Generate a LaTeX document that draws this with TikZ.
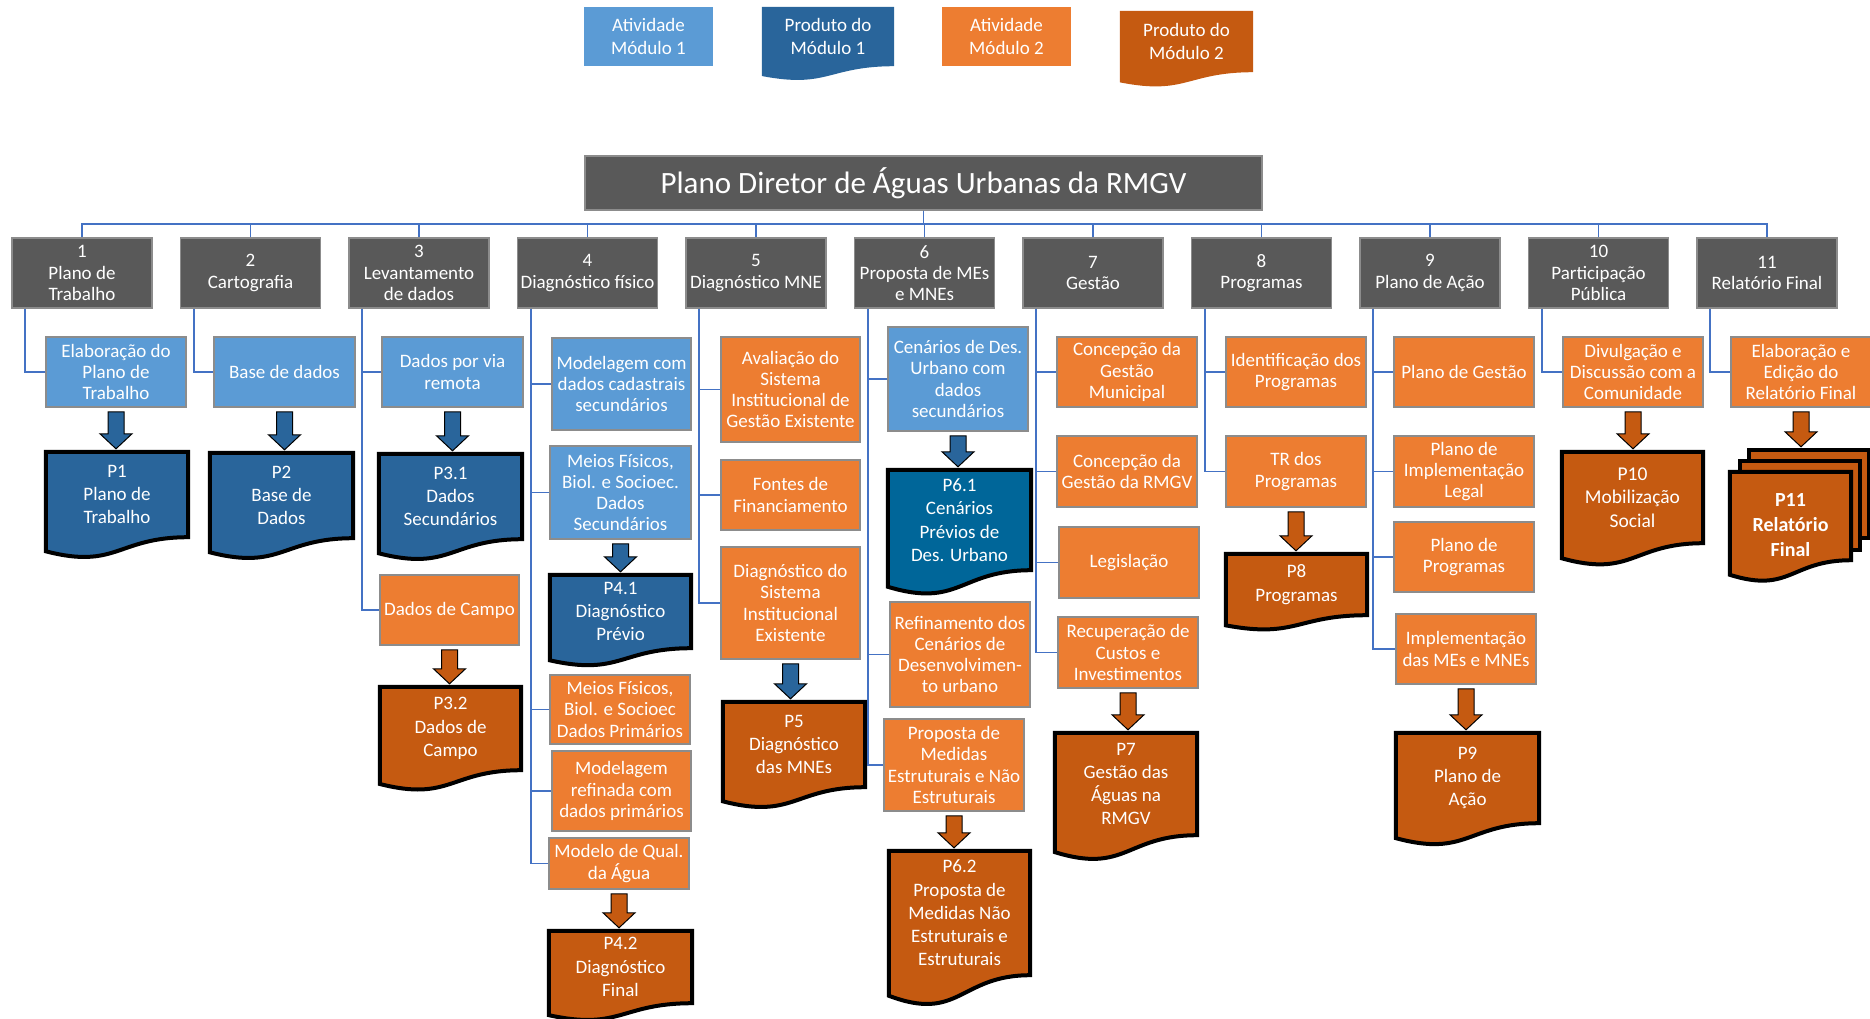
\documentclass[tikz,border=0pt]{standalone}
\usepackage{fontspec}
\setmainfont{Carlito}
\usetikzlibrary{calc,backgrounds}

\definecolor{actblue}{RGB}{91,155,213}
\definecolor{prodblue}{RGB}{41,101,155}
\definecolor{prodteal}{RGB}{0,102,153}
\definecolor{actorange}{RGB}{237,125,49}
\definecolor{prodorange}{RGB}{197,90,17}
\definecolor{catgray}{RGB}{89,89,89}
\definecolor{boxgray}{RGB}{140,140,140}
\definecolor{treeblue}{RGB}{68,114,196}

\tikzset{
  sz/.style 2 args={minimum width=#1pt, minimum height=#2pt},
  basebox/.style={inner sep=0pt, align=center, text=white, font=\fontsize{19}{21.3}\selectfont},
  catbox/.style={basebox, fill=catgray, draw=boxgray, line width=1.5pt, sz={140}{70}},
  act1/.style={basebox, fill=actblue, draw=boxgray, line width=1.5pt},
  act2/.style={basebox, fill=actorange, draw=boxgray, line width=1.5pt},
  legbox/.style={basebox, font=\fontsize{19}{22.6}\selectfont},
  docnode/.style={basebox, font=\fontsize{19}{23.3}\selectfont},
  docline/.style={draw=black, line width=4pt},
  tree/.style={draw=treeblue, line width=1.8pt},
  blockarr/.style={draw=black, line width=1pt},
}

% document shape drawn behind a text node
\newcommand\docwave[2]{%
  \begin{pgfonlayer}{background}
  \path[#2] (#1.north west) -- (#1.north east) -- (#1.south east)
    .. controls (#1.south) and ($(#1.south)!-0.381!(#1.north)$)
    .. ($(#1.south west)!-0.165!(#1.north west)$) -- cycle;
  \end{pgfonlayer}}

% thick block arrow from activity to product
\newcommand\blockarrow[3]{%
  \draw[blockarr, fill=#3] let \p1=($(#1.south)+(0,4)$), \p2=($(#2.north)+(0,-3)$) in
    (\x1-8pt,\y1) -- (\x1+8pt,\y1) -- (\x1+8pt,\y2+15pt) -- (\x1+16pt,\y2+15pt)
    -- (\x1,\y2) -- (\x1-16pt,\y2+15pt) -- (\x1-8pt,\y2+15pt) -- cycle;}

\begin{document}
\begin{tikzpicture}[x=1pt, y=-1pt]
\useasboundingbox (0,0) rectangle (1870,1018);

% legenda
\node[legbox, fill=actblue, sz={129}{59}] (leg1) at (648.5,36.5) {Atividade\\Módulo 1};
\node[legbox, sz={132}{59}] (leg2) at (828,36.5) {Produto do\\Módulo 1};
\node[legbox, fill=actorange, sz={129}{59}] (leg3) at (1006.5,36.5) {Atividade\\Módulo 2};
\node[legbox, sz={133}{61}] (leg4) at (1186.5,41.5) {Produto do\\Módulo 2};
\docwave{leg2}{fill=prodblue}
\docwave{leg4}{fill=prodorange}

% titulo
\node[basebox, fill=catgray, draw=boxgray, line width=1.5pt, sz={677}{54},
  font=\fontsize{31}{36}\selectfont] (title) at (923.5,183) {Plano Diretor de Águas Urbanas da RMGV};

% etapas
\node[catbox] (c1) at (82,273) {1\\Plano de\\Trabalho};
\node[catbox] (c2) at (250.5,273) {2\\Cartografia};
\node[catbox] (c3) at (419,273) {3\\Levantamento\\de dados};
\node[catbox] (c4) at (587.5,273) {4\\Diagnóstico físico};
\node[catbox] (c5) at (756,273) {5\\Diagnóstico MNE};
\node[catbox] (c6) at (924.5,273) {6\\Proposta de MEs\\e MNEs};
\node[catbox] (c7) at (1093,273) {7\\Gestão};
\node[catbox] (c8) at (1261.5,273) {8\\Programas};
\node[catbox] (c9) at (1430,273) {9\\Plano de Ação};
\node[catbox] (c10) at (1598.5,273) {10\\Participação\\Pública};
\node[catbox] (c11) at (1767,273) {11\\Relatório Final};

% atividades
\node[act1, sz={140}{70}] (a1) at (116,372) {Elaboração do\\Plano de\\Trabalho};
\node[act1, sz={141}{70}] (a2) at (284.5,372) {Base de dados};
\node[act1, sz={141}{70}] (a3a) at (452.5,372) {Dados por via\\remota};
\node[act2, sz={139}{70}] (a3b) at (449.5,610) {Dados de Campo};
\node[act1, sz={139}{92}] (a4a) at (621.5,384) {Modelagem com\\dados cadastrais\\secundários};
\node[act1, sz={141}{93}] (a4b) at (620.5,492.5) {Meios Físicos,\\Biol. e Socioec.\\Dados\\Secundários};
\node[act2, sz={140}{69}] (a4c) at (620,709.5) {Meios Físicos,\\Biol. e Socioec\\Dados Primários};
\node[act2, sz={139}{80}] (a4d) at (621.5,791) {Modelagem\\refinada com\\dados primários};
\node[act2, sz={140}{51}] (a4e) at (619,863.5) {Modelo de Qual.\\da Água};
\node[act2, sz={139}{105}] (a5a) at (790.5,389.5) {Avaliação do\\Sistema\\Institucional de\\Gestão Existente};
\node[act2, sz={139}{70}] (a5b) at (790.5,495) {Fontes de\\Financiamento};
\node[act2, sz={139}{112}] (a5c) at (790.5,603) {Diagnóstico do\\Sistema\\Institucional\\Existente};
\node[act1, sz={140}{104}] (a6a) at (958,379) {Cenários de Des.\\Urbano com\\dados\\secundários};
\node[act2, sz={140}{105}] (a6b) at (960,654.5) {Refinamento dos\\Cenários de\\Desenvolvimen-\\to urbano};
\node[act2, sz={140}{92}] (a6c) at (954,765) {Proposta de\\Medidas\\Estruturais e Não\\Estruturais};
\node[act2, sz={140}{70}] (a7a) at (1127,372) {Concepção da\\Gestão\\Municipal};
\node[act2, sz={140}{71}] (a7b) at (1127,471.5) {Concepção da\\Gestão da RMGV};
\node[act2, sz={140}{71}] (a7c) at (1129,562.5) {Legislação};
\node[act2, sz={140}{71}] (a7d) at (1128,652.5) {Recuperação de\\Custos e\\Investimentos};
\node[act2, sz={140}{70}] (a8a) at (1296,372) {Identificação dos\\Programas};
\node[act2, sz={140}{71}] (a8b) at (1296,471.5) {TR dos\\Programas};
\node[act2, sz={140}{70}] (a9a) at (1464,372) {Plano de Gestão};
\node[act2, sz={140}{71}] (a9b) at (1464,471.5) {Plano de\\Implementação\\Legal};
\node[act2, sz={140}{70}] (a9c) at (1464,557) {Plano de\\Programas};
\node[act2, sz={140}{70}] (a9d) at (1466,649) {Implementação\\das MEs e MNEs};
\node[act2, sz={140}{70}] (a10) at (1633,372) {Divulgação e\\Discussão com a\\Comunidade};
\node[act2, sz={140}{70}] (a11) at (1801,372) {Elaboração e\\Edição do\\Relatório Final};

% produtos
\node[docnode, sz={142}{85}] (p1) at (117,494.5) {P1\\Plano de\\Trabalho};
\node[docnode, sz={143}{85}] (p2) at (281.5,495.5) {P2\\Base de\\Dados};
\node[docnode, sz={143}{85}] (p31) at (450.5,496.5) {P3.1\\Dados\\Secundários};
\node[docnode, sz={141}{83}] (p32) at (450.5,728.5) {P3.2\\Dados de\\Campo};
\node[docnode, sz={141}{73}] (p41) at (620.5,611.5) {P4.1\\Diagnóstico\\Prévio};
\node[docnode, sz={143}{72}] (p42) at (620.5,967) {P4.2\\Diagnóstico\\Final};
\node[docnode, sz={142}{85}] (p5) at (794,744.5) {P5\\Diagnóstico\\das MNEs};
\node[docnode, sz={143}{100}] (p61) at (959.5,520) {P6.1\\Cenários\\Prévios de\\Des. Urbano};
\node[docnode, sz={141}{124}] (p62) at (959.5,913) {P6.2\\Proposta de\\Medidas Não\\Estruturais e\\Estruturais};
\node[docnode, sz={142}{102}] (p7) at (1126,784) {P7\\Gestão das\\Águas na\\RMGV};
\node[docnode, sz={141}{61}] (p8) at (1296.5,584.5) {P8\\Programas};
\node[docnode, sz={143}{90}] (p9) at (1467.5,778) {P9\\Plano de\\Ação};
\node[docnode, sz={141}{91}, font=\fontsize{19.5}{23.5}\selectfont] (p10) at (1632.5,497.5) {P10\\Mobilização\\Social};
\node[docnode, sz={120}{88}] (p11c) at (1809,494) {};
\node[docnode, sz={120}{89}] (p11b) at (1800,505.5) {};
\node[docnode, sz={121}{88}, label={[docnode, yshift=-9pt, font=\fontsize{20}{25}\selectfont\bfseries]center:{P11\\Relatório\\Final}}] (p11) at (1790.5,516) {};

\docwave{p1}{docline, fill=prodblue}
\docwave{p2}{docline, fill=prodblue}
\docwave{p31}{docline, fill=prodblue}
\docwave{p32}{docline, fill=prodorange}
\docwave{p41}{docline, fill=prodblue}
\docwave{p42}{docline, fill=prodorange}
\docwave{p5}{docline, fill=prodorange}
\docwave{p61}{docline, fill=prodteal}
\docwave{p62}{docline, fill=prodorange}
\docwave{p7}{docline, fill=prodorange}
\docwave{p8}{docline, fill=prodorange}
\docwave{p9}{docline, fill=prodorange}
\docwave{p10}{docline, fill=prodorange}
\begin{pgfonlayer}{background}
  \draw[docline, fill=prodorange] (p11c.north west) rectangle (p11c.south east);
  \draw[docline, fill=prodorange] (p11b.north west) rectangle (p11b.south east);
\end{pgfonlayer}
\docwave{p11}{docline, fill=prodorange}

% ligacoes
\foreach \c in {c1,c2,c3,c4,c5,c6,c7,c8,c9,c10,c11}
  \draw[tree] (title.south) -- ++(0,13) -| (\c.north);
\foreach \c/\a in {c1/a1, c2/a2, c3/a3a, c3/a3b, c4/a4a, c4/a4b, c4/a4c, c4/a4d, c4/a4e,
    c5/a5a, c5/a5b, c5/a5c, c6/a6a, c6/a6b, c6/a6c, c7/a7a, c7/a7b, c7/a7c, c7/a7d,
    c8/a8a, c8/a8b, c9/a9a, c9/a9b, c9/a9c, c9/a9d, c10/a10, c11/a11}
  \draw[tree] ($(\c.south west)+(14,0)$) |- (\a.west);

\blockarrow{a1}{p1}{prodblue}
\blockarrow{a2}{p2}{prodblue}
\blockarrow{a3a}{p31}{prodblue}
\blockarrow{a3b}{p32}{prodorange}
\blockarrow{a4b}{p41}{prodblue}
\blockarrow{a4e}{p42}{prodorange}
\blockarrow{a5c}{p5}{prodblue}
\blockarrow{a6a}{p61}{prodblue}
\blockarrow{a6c}{p62}{prodorange}
\blockarrow{a7d}{p7}{prodorange}
\blockarrow{a8b}{p8}{prodorange}
\blockarrow{a9d}{p9}{prodorange}
\blockarrow{a10}{p10}{prodorange}
\blockarrow{a11}{p11c}{prodorange}
\end{tikzpicture}
\end{document}
